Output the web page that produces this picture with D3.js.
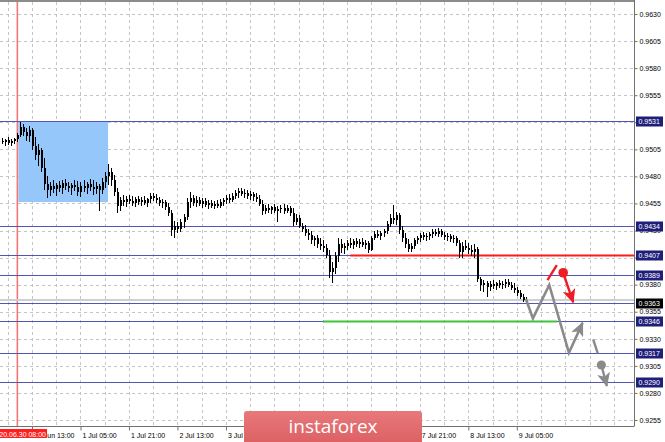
<!DOCTYPE html>
<html><head><meta charset="utf-8">
<script src="https://cdn.jsdelivr.net/npm/d3@7"></script>
<style>body{margin:0;background:#fff;}svg{display:block;}</style>
</head><body>
<svg id="c" width="665" height="442"></svg>
<script>
// ---- DATA (hourly bars, index 0 = 30 Jun 03:00) ----
const barOpen = [0.95126,0.95116,0.95135,0.95107,0.95126,0.95144,0.95181,0.95255,0.95209,0.95172,
0.95227,0.95079,0.94996,0.95043,0.94876,0.94729,0.94673,0.94710,0.94683,0.94720,
0.94692,0.94738,0.94710,0.94692,0.94720,0.94701,0.94655,0.94710,0.94692,0.94729,
0.94701,0.94683,0.94710,0.94673,0.94747,0.94803,0.94840,0.94766,0.94655,0.94526,
0.94581,0.94563,0.94590,0.94572,0.94553,0.94590,0.94563,0.94581,0.94553,0.94590,
0.94618,0.94599,0.94581,0.94553,0.94563,0.94516,0.94461,0.94304,0.94341,0.94313,
0.94378,0.94424,0.94563,0.94599,0.94553,0.94581,0.94544,0.94572,0.94535,0.94553,
0.94526,0.94544,0.94526,0.94563,0.94581,0.94599,0.94581,0.94618,0.94646,0.94664,
0.94636,0.94646,0.94618,0.94636,0.94609,0.94590,0.94544,0.94479,0.94507,0.94489,
0.94516,0.94479,0.94498,0.94507,0.94479,0.94507,0.94461,0.94378,0.94415,0.94341,
0.94313,0.94276,0.94258,0.94212,0.94230,0.94175,0.94156,0.94138,0.94073,0.93916,
0.93953,0.94064,0.94175,0.94138,0.94156,0.94184,0.94166,0.94203,0.94175,0.94193,
0.94166,0.94184,0.94119,0.94230,0.94267,0.94249,0.94276,0.94295,0.94359,0.94415,
0.94396,0.94443,0.94304,0.94230,0.94175,0.94129,0.94156,0.94212,0.94230,0.94258,
0.94239,0.94249,0.94267,0.94286,0.94267,0.94295,0.94258,0.94239,0.94249,0.94221,
0.94230,0.94184,0.94101,0.94156,0.94138,0.94119,0.94101,0.94129,0.93852,0.93796,
0.93815,0.93778,0.93806,0.93787,0.93815,0.93796,0.93806,0.93824,0.93796,0.93769,
0.93750,0.93723,0.93686,0.93658];
const barHigh = [0.95153,0.95144,0.95162,0.95144,0.95153,0.95199,0.95301,0.95282,0.95245,0.95264,
0.95245,0.95162,0.95098,0.95061,0.94969,0.94803,0.94747,0.94766,0.94738,0.94757,
0.94766,0.94775,0.94747,0.94738,0.94766,0.94757,0.94747,0.94766,0.94747,0.94775,
0.94766,0.94747,0.94729,0.94784,0.94840,0.94913,0.94876,0.94812,0.94692,0.94609,
0.94627,0.94618,0.94627,0.94618,0.94609,0.94618,0.94609,0.94618,0.94599,0.94646,
0.94646,0.94636,0.94609,0.94590,0.94581,0.94553,0.94489,0.94387,0.94378,0.94406,
0.94452,0.94599,0.94655,0.94627,0.94618,0.94609,0.94599,0.94599,0.94581,0.94581,
0.94572,0.94581,0.94590,0.94599,0.94627,0.94636,0.94646,0.94673,0.94692,0.94692,
0.94683,0.94673,0.94664,0.94655,0.94646,0.94627,0.94581,0.94535,0.94544,0.94526,
0.94544,0.94526,0.94535,0.94544,0.94535,0.94526,0.94507,0.94452,0.94443,0.94369,
0.94350,0.94313,0.94295,0.94249,0.94258,0.94230,0.94212,0.94175,0.94119,0.94009,
0.94101,0.94230,0.94221,0.94184,0.94212,0.94230,0.94221,0.94230,0.94221,0.94230,
0.94212,0.94203,0.94249,0.94295,0.94304,0.94295,0.94313,0.94387,0.94452,0.94535,
0.94470,0.94461,0.94341,0.94276,0.94221,0.94184,0.94230,0.94249,0.94276,0.94286,
0.94276,0.94286,0.94313,0.94313,0.94323,0.94313,0.94286,0.94276,0.94267,0.94258,
0.94249,0.94212,0.94193,0.94212,0.94184,0.94166,0.94175,0.94147,0.93870,0.93843,
0.93833,0.93833,0.93843,0.93824,0.93843,0.93833,0.93852,0.93852,0.93824,0.93815,
0.93778,0.93750,0.93713,0.93686];
const barLow = [0.95098,0.95079,0.95089,0.95079,0.95098,0.95116,0.95162,0.95172,0.95126,0.95116,
0.95043,0.94950,0.94895,0.94840,0.94673,0.94599,0.94618,0.94646,0.94618,0.94655,
0.94636,0.94673,0.94655,0.94627,0.94664,0.94618,0.94609,0.94655,0.94636,0.94664,
0.94627,0.94636,0.94479,0.94636,0.94692,0.94720,0.94710,0.94618,0.94461,0.94479,
0.94526,0.94516,0.94544,0.94526,0.94516,0.94535,0.94526,0.94535,0.94516,0.94553,
0.94572,0.94553,0.94526,0.94507,0.94489,0.94433,0.94249,0.94230,0.94276,0.94286,
0.94323,0.94396,0.94507,0.94526,0.94516,0.94526,0.94507,0.94516,0.94498,0.94507,
0.94498,0.94507,0.94507,0.94526,0.94544,0.94553,0.94563,0.94590,0.94599,0.94618,
0.94599,0.94590,0.94581,0.94572,0.94563,0.94526,0.94443,0.94452,0.94461,0.94452,
0.94461,0.94378,0.94461,0.94452,0.94461,0.94433,0.94341,0.94350,0.94323,0.94286,
0.94249,0.94212,0.94175,0.94156,0.94138,0.94119,0.94101,0.94046,0.93861,0.93815,
0.93898,0.94009,0.94092,0.94083,0.94119,0.94138,0.94129,0.94147,0.94138,0.94147,
0.94129,0.94092,0.94110,0.94212,0.94230,0.94212,0.94239,0.94267,0.94332,0.94359,
0.94350,0.94267,0.94193,0.94138,0.94101,0.94101,0.94129,0.94175,0.94193,0.94212,
0.94203,0.94212,0.94230,0.94249,0.94239,0.94239,0.94212,0.94203,0.94193,0.94184,
0.94156,0.94046,0.94046,0.94119,0.94083,0.94064,0.94046,0.93824,0.93741,0.93732,
0.93686,0.93741,0.93759,0.93750,0.93769,0.93759,0.93769,0.93778,0.93750,0.93723,
0.93695,0.93667,0.93639,0.93621];
const barClose = [0.95116,0.95135,0.95107,0.95126,0.95144,0.95181,0.95255,0.95209,0.95172,0.95227,
0.95079,0.94996,0.95043,0.94876,0.94729,0.94673,0.94710,0.94683,0.94720,0.94692,
0.94738,0.94710,0.94692,0.94720,0.94701,0.94655,0.94710,0.94692,0.94729,0.94701,
0.94683,0.94710,0.94673,0.94747,0.94803,0.94840,0.94766,0.94655,0.94526,0.94581,
0.94563,0.94590,0.94572,0.94553,0.94590,0.94563,0.94581,0.94553,0.94590,0.94618,
0.94599,0.94581,0.94553,0.94563,0.94516,0.94461,0.94304,0.94341,0.94313,0.94378,
0.94424,0.94563,0.94599,0.94553,0.94581,0.94544,0.94572,0.94535,0.94553,0.94526,
0.94544,0.94526,0.94563,0.94581,0.94599,0.94581,0.94618,0.94646,0.94664,0.94636,
0.94646,0.94618,0.94636,0.94609,0.94590,0.94544,0.94479,0.94507,0.94489,0.94516,
0.94479,0.94498,0.94507,0.94479,0.94507,0.94461,0.94378,0.94415,0.94341,0.94313,
0.94276,0.94258,0.94212,0.94230,0.94175,0.94156,0.94138,0.94073,0.93916,0.93953,
0.94064,0.94175,0.94138,0.94156,0.94184,0.94166,0.94203,0.94175,0.94193,0.94166,
0.94184,0.94119,0.94230,0.94267,0.94249,0.94276,0.94295,0.94359,0.94415,0.94396,
0.94443,0.94304,0.94230,0.94175,0.94129,0.94156,0.94212,0.94230,0.94258,0.94239,
0.94249,0.94267,0.94286,0.94267,0.94295,0.94258,0.94239,0.94249,0.94221,0.94230,
0.94184,0.94101,0.94156,0.94138,0.94119,0.94101,0.94129,0.93852,0.93796,0.93815,
0.93778,0.93806,0.93787,0.93815,0.93796,0.93806,0.93824,0.93796,0.93769,0.93750,
0.93723,0.93686,0.93658,0.93649];

const timeTickBars = [10,26,42,58,74,90,106,122,138,154,170];
const timeTickLabels = ["30 Jun 13:00","1 Jul 05:00","1 Jul 21:00","2 Jul 13:00","3 Jul 05:00",
  "3 Jul 21:00","6 Jul 13:00","7 Jul 05:00","7 Jul 21:00","8 Jul 13:00","9 Jul 05:00"];
const markerBar = 5, markerLabel = "20.06.30 08:00";
const priceTicks = [0.9630,0.9605,0.9580,0.9555,0.9530,0.9505,0.9480,0.9455,0.9430,0.9405,
  0.9380,0.9355,0.9330,0.9305,0.9280,0.9255];
const levelPrices = [0.9531,0.9434,0.9407,0.9389,0.9363,0.9346,0.9317,0.9290];
const bidPrice = 0.9363;
const silverLinePrice = 0.93658;
// zone rectangle (bars / prices)
const zoneBars = [5.5, 35.1];
const zonePrices = [0.9531, 0.94563];
// resistance (red) and support (green) segments
const redLineBars = [115, 211], redLinePrice = 0.9407;
const greenLineBars = [106, 183.3], greenLinePrice = 0.9346;
// forecast zig-zag (gray) and signals
const pathBars = [173.0, 175.3, 180.7, 187.2, 191.7];
const pathPrices = [0.93667, 0.93489, 0.93797, 0.93171, 0.93448];
const grayDashBars = [195.2, 196.7], grayDashPrices = [0.93295, 0.93166];
const grayDotBar = 197.9, grayDotPrice = 0.93058;
const grayTipBar = 199.7, grayTipPrice = 0.92864;
const redDashBars = [180.1, 183.2], redDashPrices = [0.93842, 0.93981];
const redDotBar = 185.3, redDotPrice = 0.9391;
const redTipBar = 188.6, redTipPrice = 0.93637;

// ---- SCALES ----
const W = 665, H = 442, plotR = 634, plotB = 426;
const x = d3.scaleLinear().domain([0, 208.7]).range([1.7, 634.1]);
const y = d3.scaleLinear().domain([0.9255, 0.9630]).range([420, 14]);
const svg = d3.select("#c");
const font = "'Liberation Sans', Arial, sans-serif";

svg.append("defs").append("clipPath").attr("id","plot")
  .append("rect").attr("x",0).attr("y",2).attr("width",plotR).attr("height",plotB-2);
const defs = svg.select("defs");
function mkArrow(id, color){
  defs.append("marker").attr("id",id).attr("markerUnits","userSpaceOnUse")
    .attr("markerWidth",15).attr("markerHeight",13).attr("refX",13).attr("refY",6.5)
    .attr("orient","auto")
    .append("path").attr("d","M0,0 L14,6.5 L0,13 L3.5,6.5 Z").attr("fill",color);
}
mkArrow("arG","#8a8a8a"); mkArrow("arR","#ee1c24");
const lg = defs.append("linearGradient").attr("id","logoG").attr("x1",0).attr("y1",0).attr("x2",0).attr("y2",1);
lg.append("stop").attr("offset","0").attr("stop-color","#e8787a");
lg.append("stop").attr("offset","1").attr("stop-color","#d95b5e");

svg.append("rect").attr("width",W).attr("height",H).attr("fill","#fff");
const plot = svg.append("g").attr("clip-path","url(#plot)");

// grid
const vGrid = d3.range(2, 210, 8);
plot.selectAll(".vg").data(vGrid).join("line")
  .attr("x1",d=>Math.round(x(d))+0.5).attr("x2",d=>Math.round(x(d))+0.5)
  .attr("y1",2).attr("y2",plotB)
  .attr("stroke","#c4c4c4").attr("stroke-dasharray","3,3");
plot.selectAll(".hg").data(priceTicks).join("line")
  .attr("x1",0).attr("x2",plotR)
  .attr("y1",d=>Math.round(y(d))+0.5).attr("y2",d=>Math.round(y(d))+0.5)
  .attr("stroke","#c4c4c4").attr("stroke-dasharray","3,3");

// zone
plot.append("rect").attr("x",x(zoneBars[0])).attr("y",y(zonePrices[0]))
  .attr("width",x(zoneBars[1])-x(zoneBars[0])).attr("height",y(zonePrices[1])-y(zonePrices[0]))
  .attr("fill","#95c7fb");

// time marker line
plot.append("line").attr("x1",x(markerBar)+0.5).attr("x2",x(markerBar)+0.5)
  .attr("y1",2).attr("y2",plotB).attr("stroke","#f27878").attr("stroke-width",1.6);

// silver line + levels
plot.append("line").attr("x1",0).attr("x2",plotR)
  .attr("y1",y(silverLinePrice)).attr("y2",y(silverLinePrice))
  .attr("stroke","#cfcfcf").attr("stroke-width",2);
plot.selectAll(".lv").data(levelPrices).join("line")
  .attr("shape-rendering","crispEdges")
  .attr("x1",0).attr("x2",plotR)
  .attr("y1",d=>Math.round(y(d))+0.5).attr("y2",d=>Math.round(y(d))+0.5)
  .attr("stroke","#5454b8").attr("stroke-width",1);

plot.append("line").attr("x1",x(redLineBars[0])).attr("x2",x(redLineBars[1]))
  .attr("y1",y(redLinePrice)).attr("y2",y(redLinePrice))
  .attr("stroke","#ff1a1a").attr("stroke-width",2);
plot.append("line").attr("x1",x(greenLineBars[0])).attr("x2",x(greenLineBars[1]))
  .attr("y1",y(greenLinePrice)).attr("y2",y(greenLinePrice))
  .attr("stroke","#3cc43c").attr("stroke-width",2);

// candles
const idx = d3.range(barClose.length);
const cg = plot.append("g").attr("shape-rendering","crispEdges");
cg.selectAll(".w").data(idx).join("line")
  .attr("x1",i=>Math.round(x(i))+0.5).attr("x2",i=>Math.round(x(i))+0.5)
  .attr("y1",i=>y(barHigh[i])).attr("y2",i=>y(barLow[i]))
  .attr("stroke","#000");
cg.selectAll(".b").data(idx).join("rect")
  .attr("x",i=>Math.round(x(i))-0.5).attr("width",2)
  .attr("y",i=>y(Math.max(barOpen[i],barClose[i])))
  .attr("height",i=>Math.max(1,Math.abs(y(barOpen[i])-y(barClose[i]))))
  .attr("fill","#000");

// forecast
const line = d3.line().x(d=>x(d[0])).y(d=>y(d[1]));
plot.append("path").datum(pathBars.map((b,k)=>[b,pathPrices[k]]))
  .attr("d",line).attr("fill","none").attr("stroke","#8a8a8a").attr("stroke-width",2.6)
  .attr("stroke-linejoin","miter").attr("marker-end","url(#arG)");
plot.append("path").datum(grayDashBars.map((b,k)=>[b,grayDashPrices[k]]))
  .attr("d",line).attr("stroke","#8a8a8a").attr("stroke-width",2.4);
plot.append("circle").attr("cx",x(grayDotBar)).attr("cy",y(grayDotPrice)).attr("r",4.6).attr("fill","#8a8a8a");
plot.append("path").datum([[grayDotBar,grayDotPrice],[grayTipBar,grayTipPrice]])
  .attr("d",line).attr("stroke","#8a8a8a").attr("stroke-width",2.4).attr("marker-end","url(#arG)");
plot.append("path").datum(redDashBars.map((b,k)=>[b,redDashPrices[k]]))
  .attr("d",line).attr("stroke","#ee1c24").attr("stroke-width",2.4);
plot.append("circle").attr("cx",x(redDotBar)).attr("cy",y(redDotPrice)).attr("r",4.8).attr("fill","#ee1c24");
plot.append("path").datum([[redDotBar,redDotPrice],[redTipBar,redTipPrice]])
  .attr("d",line).attr("stroke","#ee1c24").attr("stroke-width",2.4).attr("marker-end","url(#arR)");

// frame
svg.append("line").attr("x1",0).attr("x2",plotR+0.5).attr("y1",1).attr("y2",1).attr("stroke","#8c8c8c").attr("stroke-width",2);
svg.append("line").attr("x1",plotR+0.5).attr("x2",plotR+0.5).attr("y1",0).attr("y2",plotB).attr("stroke","#707070");
svg.append("line").attr("x1",0).attr("x2",plotR+0.5).attr("y1",plotB+0.5).attr("y2",plotB+0.5).attr("stroke","#707070");

// y axis
const ya = svg.append("g").attr("transform",`translate(${plotR+0.5},0)`)
  .call(d3.axisRight(y).tickValues(priceTicks).tickSize(3).tickPadding(2).tickFormat(d3.format(".4f")));
ya.select(".domain").remove();
ya.selectAll("line").attr("stroke","#707070");
ya.selectAll("text").attr("font-family",font).attr("font-size",7).attr("fill","#000");

// x axis
const xa = svg.append("g").attr("transform",`translate(0,${plotB+0.5})`)
  .call(d3.axisBottom(x).tickValues(timeTickBars).tickSize(4).tickPadding(3)
    .tickFormat((d,k)=>timeTickLabels[k]));
xa.select(".domain").remove();
xa.selectAll("line").attr("stroke","#707070");
xa.selectAll("text").attr("font-family",font).attr("font-size",7).attr("fill","#000")
  .attr("text-anchor","start").attr("x",1.5);

// marker label
svg.append("rect").attr("x",0).attr("y",429).attr("width",47).attr("height",9).attr("fill","#ff1f1f");
svg.append("text").attr("x",46).attr("y",436.5).attr("text-anchor","end")
  .attr("font-family",font).attr("font-size",7).attr("fill","#fff").text(markerLabel);

// level labels
const ll = svg.selectAll(".ll").data(levelPrices).join("g")
  .attr("transform",d=>`translate(636,${Math.round(y(d))})`);
ll.append("rect").attr("x",0).attr("y",-4.5).attr("width",27).attr("height",10)
  .attr("fill",d=>d===bidPrice?"#000":"#1f1f7a");
ll.append("text").attr("x",2.5).attr("y",3).attr("font-family",font).attr("font-size",7)
  .attr("fill","#fff").text(d=>d3.format(".4f")(d));

// logo
svg.append("rect").attr("x",244).attr("y",411).attr("width",178).attr("height",40).attr("rx",3)
  .attr("fill","url(#logoG)");
svg.append("text").attr("x",333).attr("y",432.5).attr("text-anchor","middle")
  .attr("font-family","'Open Sans', 'Noto Sans', sans-serif").attr("font-size",19)
  .attr("fill","#fff").text("instaforex");
</script>
</body></html>
